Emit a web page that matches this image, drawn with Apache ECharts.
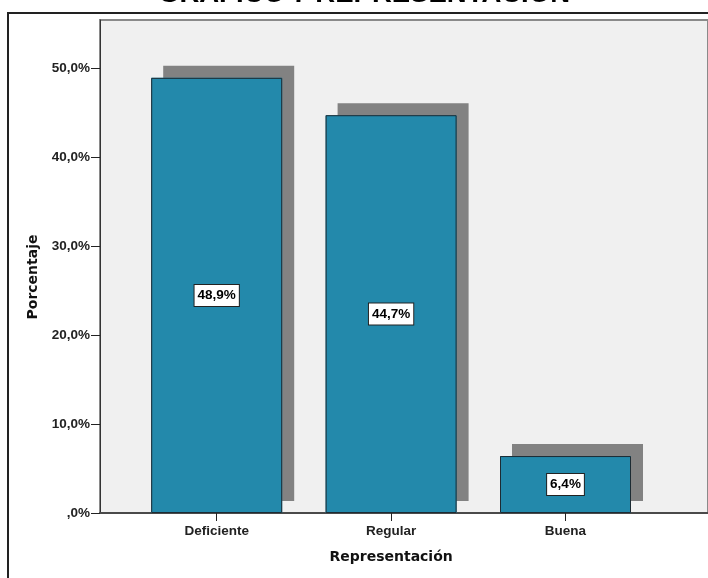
<!DOCTYPE html>
<html>
<head>
<meta charset="utf-8">
<script src="https://cdn.jsdelivr.net/npm/echarts@6/dist/echarts.min.js"></script>
<style>
  html, body { margin: 0; padding: 0; background: #fff; }
  #chart { width: 708px; height: 578px; }
</style>
</head>
<body>
<div id="chart"></div>
<script>
// data
var categories = ["Deficiente", "Regular", "Buena"];
var percentages = [48.9, 44.7, 6.4];
var yTicks = [0, 10, 20, 30, 40, 50];
var yMax = 55.4;

var chart = echarts.init(document.getElementById("chart"));

// 48.9 -> "48,9%", 0 -> ",0%"
function pct(v) {
  var s = v.toFixed(1).replace(".", ",");
  if (s.indexOf("0,") === 0) s = s.substring(1);
  return s + "%";
}

var tickFont = { fontFamily: "Liberation Sans", fontWeight: "bold", fontSize: 13.5, color: "#222" };

chart.setOption({
  animation: false,
  backgroundColor: "#ffffff",
  title: {
    text: "GRÁFICO 7 REPRESENTACIÓN",
    left: 364,
    top: -20,
    padding: 0,
    textAlign: "center",
    textStyle: { fontFamily: "Liberation Sans", fontWeight: "bold", fontSize: 27.5, color: "#000" }
  },
  graphic: [{
    // outer frame of the SPSS output
    type: "rect",
    shape: { x: 8, y: 13, width: 800, height: 700 },
    style: { fill: null, stroke: "#222", lineWidth: 2 },
    z: 100
  }],
  grid: [
    // plot area (background + axes)
    { left: 100, right: -20, top: 20, bottom: 65, show: true, backgroundColor: "#f0f0f0", borderColor: "#8a8a8a", borderWidth: 2 },
    // bar area
    { left: 129.5, width: 523.2, top: 20, bottom: 65 }
  ],
  xAxis: [
    {
      gridIndex: 0, type: "value", min: 0, max: 1,
      axisLine: { show: true, onZero: false, lineStyle: { color: "#4a4a4a", width: 2 } },
      axisTick: { show: false }, axisLabel: { show: false }, splitLine: { show: false }
    },
    {
      gridIndex: 1, type: "category", data: categories,
      name: "Representación", nameLocation: "middle", nameGap: 37,
      nameTextStyle: { fontFamily: "DejaVu Sans", fontWeight: "bold", fontSize: 14, color: "#111" },
      axisLine: { show: false },
      axisTick: { show: true, alignWithLabel: true, length: 8, lineStyle: { color: "#222", width: 1 } },
      axisLabel: Object.assign({ margin: 11 }, tickFont)
    }
  ],
  yAxis: [
    {
      gridIndex: 0, type: "value", min: 0, max: yMax, interval: 10,
      name: "Porcentaje", nameLocation: "middle", nameGap: 58,
      nameTextStyle: { fontFamily: "DejaVu Sans", fontWeight: "bold", fontSize: 14, color: "#111", padding: [0, 21, 0, 0] },
      axisLine: { show: true, lineStyle: { color: "#333", width: 1 } },
      axisTick: { show: true, length: 9, customValues: yTicks, lineStyle: { color: "#222" } },
      axisLabel: Object.assign({ margin: 10, customValues: yTicks, formatter: pct }, tickFont),
      splitLine: { show: false }
    },
    { gridIndex: 1, type: "value", min: 0, max: yMax, show: false }
  ],
  series: [
    {
      // drop shadow behind each bar
      type: "bar",
      xAxisIndex: 1,
      yAxisIndex: 1,
      data: percentages,
      barWidth: 131,
      silent: true,
      itemStyle: {
        color: "#2389ab",
        shadowColor: "#828282",
        shadowBlur: 0,
        shadowOffsetX: 12,
        shadowOffsetY: -12
      }
    },
    {
      type: "bar",
      xAxisIndex: 1,
      yAxisIndex: 1,
      data: percentages,
      barWidth: 131,
      barGap: "-100%",
      itemStyle: {
        color: "#2389ab",
        borderColor: "#1d2b33",
        borderWidth: 1
      },
      label: {
        show: true,
        position: "inside",
        formatter: function (p) { return pct(p.value); },
        fontFamily: "Liberation Sans",
        fontWeight: "bold",
        fontSize: 13.5,
        color: "#000",
        backgroundColor: "#fff",
        borderColor: "#222",
        borderWidth: 1,
        padding: [4, 3, 3, 3]
      }
    }
  ]
});
</script>
</body>
</html>
